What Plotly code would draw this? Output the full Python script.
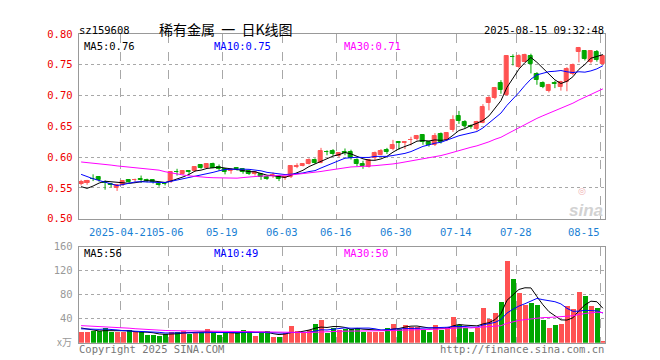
import plotly.graph_objects as go
import pandas as pd

# ---------------- data ----------------
OPEN = [0.557,0.558,0.565,0.567,0.560,0.556,0.549,0.555,0.563,0.562,
        0.564,0.563,0.563,0.557,0.557,0.559,0.576,0.573,0.578,0.578,
        0.587,0.582,0.589,0.584,0.581,0.577,0.582,0.580,0.577,0.573,
        0.572,0.568,0.569,0.570,0.566,0.567,0.584,0.586,0.589,0.596,
        0.591,0.609,0.610,0.602,0.609,0.609,0.596,0.589,0.584,0.598,
        0.604,0.611,0.613,0.6245,0.623,0.627,0.629,0.636,0.624,0.619,
        0.638,0.628,0.644,0.666,0.657,0.651,0.645,0.656,0.6887,0.6955,
        0.720,0.7007,0.763,0.746,0.755,0.7647,0.7343,0.7201,0.707,0.7205,
        0.714,0.7227,0.7343,0.770,0.7725,0.7542,0.771,0.751]
HIGH = [0.563,0.563,0.572,0.569,0.562,0.558,0.556,0.562,0.564,0.565,
        0.570,0.565,0.564,0.560,0.559,0.576,0.581,0.579,0.579,0.585,
        0.588,0.590,0.591,0.588,0.582,0.582,0.583,0.581,0.578,0.577,
        0.574,0.569,0.575,0.571,0.569,0.586,0.590,0.590,0.598,0.598,
        0.615,0.611,0.613,0.608,0.614,0.612,0.598,0.594,0.597,0.609,
        0.613,0.615,0.628,0.625,0.626,0.633,0.636,0.637,0.625,0.639,
        0.640,0.640,0.668,0.675,0.660,0.653,0.659,0.686,0.699,0.714,
        0.725,0.765,0.767,0.767,0.768,0.768,0.738,0.723,0.719,0.724,
        0.724,0.746,0.752,0.779,0.774,0.774,0.774,0.766]
LOW = [0.554,0.555,0.561,0.560,0.547,0.551,0.545,0.553,0.558,0.560,
       0.558,0.559,0.557,0.552,0.554,0.558,0.570,0.571,0.572,0.576,
       0.581,0.581,0.582,0.578,0.572,0.573,0.578,0.573,0.571,0.570,
       0.563,0.563,0.566,0.561,0.563,0.566,0.582,0.585,0.588,0.589,
       0.590,0.603,0.602,0.600,0.603,0.596,0.585,0.581,0.583,0.595,
       0.603,0.605,0.611,0.612,0.613,0.619,0.627,0.620,0.617,0.618,
       0.622,0.626,0.641,0.654,0.647,0.646,0.643,0.655,0.676,0.694,
       0.703,0.6995,0.749,0.744,0.754,0.736,0.7175,0.712,0.705,0.712,
       0.708,0.707,0.733,0.754,0.757,0.752,0.755,0.750]
CLOSE = [0.559,0.561,0.564,0.562,0.558,0.554,0.554,0.561,0.560,0.563,
         0.563,0.561,0.559,0.555,0.556,0.575,0.575,0.578,0.575,0.584,
         0.582,0.589,0.583,0.581,0.576,0.579,0.580,0.575,0.572,0.575,
         0.567,0.564,0.571,0.565,0.568,0.585,0.586,0.589,0.595,0.590,
         0.610,0.608,0.605,0.607,0.607,0.599,0.588,0.585,0.596,0.606,
         0.610,0.609,0.619,0.6235,0.625,0.628,0.634,0.624,0.620,0.634,
         0.624,0.639,0.660,0.659,0.650,0.649,0.657,0.682,0.6965,0.713,
         0.7097,0.7647,0.762,0.765,0.766,0.7516,0.7254,0.7133,0.7175,0.7195,
         0.722,0.7437,0.750,0.7778,0.7594,0.7725,0.758,0.765]
VOLUME = [17.6,17.6,19.7,19.7,25.6,17.6,17.6,17.6,21.0,17.6,
          17.6,13.3,13.3,11.2,14.4,17.6,17.6,19.7,14.4,16.5,
          17.6,24.0,16.5,12.8,16.5,17.6,17.0,22.4,17.6,11.2,
          16.0,20.8,9.6,9.6,16.0,28.8,20.8,17.0,22.4,31.0,
          39.0,17.0,25.0,22.0,24.0,23.0,25.0,18.7,18.7,18.7,
          18.7,25.6,32.0,23.0,30.4,26.7,26.7,21.3,17.6,30.4,
          21.3,27.2,43.2,29.3,25.0,17.6,25.0,59.0,40.0,50.0,
          67.7,136.0,107.0,82.7,64.0,66.7,64.0,38.4,25.6,30.4,
          31.5,62.4,57.0,84.8,79.0,62.4,58.0,2.7]
# estimated sessions before the visible window (only feed the moving averages)
PRIOR_CLOSE = [0.585,0.592,0.598,0.590,0.586,0.594,0.590,0.585,
               0.580,0.586,0.590,0.582,
               0.615,0.632,0.640,
               0.628,0.620,0.615,0.622,0.612,
               0.600,0.597,0.590,0.588,0.585,
               0.575,0.545,0.538,0.543]
PRIOR_VOLUME = [32,30,34,31,30, 42,45,40, 44,40,38, 28,27,25,26,
                22,21,24,20,22, 22,21,23,20,22, 28,30,24,23]

DATE_TICK_IDX = [7, 15, 24, 34, 43, 53, 63, 73, 87]
DATE_TICK_LABELS = ["2025-04-21", "05-06", "05-19", "06-03", "06-16",
                    "06-30", "07-14", "07-28", "08-15"]
PRICE_TICKS = [0.50, 0.55, 0.60, 0.65, 0.70, 0.75, 0.80]
VOL_TICKS = [40, 80, 120, 160]
MA_PERIODS = [5, 10, 30]
PRICE_MA_TEXT = ["MA5:0.76", "MA10:0.75", "MA30:0.71"]
VOL_MA_TEXT = ["MA5:56", "MA10:49", "MA30:50"]
CODE = "sz159608"
TITLE = "稀有金属\u00a0\u00a0一\u00a0\u00a0日K线图"
STAMP = "2025-08-15 09:32:48"

# ---------------- styling ----------------
W, H = 660, 360
X0, X1 = 70.7, 597.3
P_TOP, P_BOT = 20.7, 211.7
V_TOP, V_BOT = 240.7, 340.0
RED, GREEN = "#ff5252", "#00a600"
MA_COLORS = ["#000000", "#0000ff", "#ff00ff"]
MONO = "DejaVu Sans Mono"
FS = 10.5


def fx(x):
    return x / W


def fy(y):
    return 1 - y / H


n = len(CLOSE)
idx = list(range(n))
up = [c >= o for o, c in zip(OPEN, CLOSE)]
colors = [RED if u else GREEN for u in up]

close_all = pd.Series(PRIOR_CLOSE + CLOSE)
vol_all = pd.Series(PRIOR_VOLUME + VOLUME)
k = len(PRIOR_CLOSE)
price_ma = [close_all.rolling(p).mean().tolist()[k:] for p in MA_PERIODS]
kv = len(PRIOR_VOLUME)
vol_ma = [vol_all.rolling(p).mean().tolist()[kv:] for p in MA_PERIODS]

fig = go.Figure()

# wicks
for want, col in ((True, RED), (False, GREEN)):
    xs, ys = [], []
    for i in idx:
        if up[i] == want:
            xs += [i, i, None]
            ys += [LOW[i], HIGH[i], None]
    fig.add_trace(go.Scatter(x=xs, y=ys, mode="lines", line=dict(color=col, width=1),
                             hoverinfo="skip", showlegend=False, xaxis="x", yaxis="y"))

# bodies
fig.add_trace(go.Bar(x=idx, base=[min(o, c) for o, c in zip(OPEN, CLOSE)],
                     y=[abs(c - o) for o, c in zip(OPEN, CLOSE)],
                     width=0.7, marker=dict(color=colors, line=dict(color=colors, width=1)),
                     showlegend=False, xaxis="x", yaxis="y"))

for ma, col in zip(price_ma, MA_COLORS):
    fig.add_trace(go.Scatter(x=idx, y=ma, mode="lines", line=dict(color=col, width=1),
                             showlegend=False, xaxis="x", yaxis="y"))

# volume
fig.add_trace(go.Bar(x=idx, y=VOLUME, width=0.85, marker=dict(color=colors, line=dict(width=0)),
                     showlegend=False, xaxis="x2", yaxis="y2"))
for ma, col in zip(vol_ma, MA_COLORS):
    fig.add_trace(go.Scatter(x=idx, y=ma, mode="lines", line=dict(color=col, width=1),
                             showlegend=False, xaxis="x2", yaxis="y2"))

grid_x = [t - 0.45 for t in DATE_TICK_IDX]
xcommon = dict(domain=[fx(X0), fx(X1)], range=[-0.4, n - 0.6], tickvals=grid_x,
               showticklabels=False, ticks="", showgrid=True, gridcolor="#a8a8a8",
               griddash="dash", gridwidth=1, showline=True, mirror=True,
               linecolor="#999999", linewidth=1, zeroline=False, fixedrange=True)

fig.update_layout(
    width=W, height=H, margin=dict(l=0, r=0, t=0, b=0),
    paper_bgcolor="white", plot_bgcolor="white", bargap=0,
    showlegend=False,
    xaxis=dict(anchor="y", **xcommon),
    xaxis2=dict(anchor="y2", **xcommon),
    yaxis=dict(domain=[fy(P_BOT), fy(P_TOP)], range=[PRICE_TICKS[0], PRICE_TICKS[-1]],
               tickvals=PRICE_TICKS, ticktext=[f"{v:.2f}" for v in PRICE_TICKS],
               tickfont=dict(family=MONO, size=FS, color="#ee0000"), ticks="",
               ticklabelstandoff=3,
               showgrid=True, gridcolor="#a8a8a8", griddash="dot", gridwidth=1,
               showline=True, mirror=True, linecolor="#999999", linewidth=1,
               zeroline=False, anchor="x"),
    yaxis2=dict(domain=[fy(V_BOT), fy(V_TOP)], range=[0, VOL_TICKS[-1]],
                tickvals=VOL_TICKS, ticktext=[str(v) for v in VOL_TICKS],
                tickfont=dict(family=MONO, size=FS, color="#999999"), ticks="",
                ticklabelstandoff=3,
                showgrid=True, gridcolor="#a8a8a8", griddash="dot", gridwidth=1,
                showline=True, mirror=True, linecolor="#999999", linewidth=1,
                zeroline=False, anchor="x2"),
)

ann = []


def text(x, y, s, color="#000000", size=FS, family=MONO, anchor="left", **kw):
    ann.append(dict(x=fx(x), y=fy(y), xref="paper", yref="paper", text=s, showarrow=False,
                    xanchor=anchor, yanchor="middle",
                    font=dict(family=family, size=size, color=color, **kw)))


text(69, 17, CODE)
text(149, 16, TITLE, size=14, family="Noto Sans CJK SC", anchor="left")
text(598, 17, STAMP, anchor="right")
for j, (s, col) in enumerate(zip(PRICE_MA_TEXT, MA_COLORS)):
    text(74 + 130 * j, 33, s, color=col)
for j, (s, col) in enumerate(zip(VOL_MA_TEXT, MA_COLORS)):
    text(74 + 130 * j, 247, s, color=col)
text(66, 339, "x万", color="#999999", size=10, family="Noto Sans CJK SC", anchor="right")
text(69, 347, "Copyright 2025 SINA.COM", color="#777777")
text(598, 347, "http://finance.sina.com.cn", color="#777777", anchor="right")
text(574, 183, "◎", color="#f0b4b4", size=9, family="DejaVu Sans", anchor="center")
text(578, 203, "sina", color="#d2d2d2", size=17, family="Liberation Sans",
     anchor="center", style="italic", weight="bold")

for t, lab in zip(grid_x, DATE_TICK_LABELS):
    last = lab == DATE_TICK_LABELS[-1]
    ann.append(dict(x=t + (0.35 if last else 0), y=fy(226), xref="x", yref="paper", text=lab,
                    showarrow=False, xanchor="right" if last else "center", yanchor="middle",
                    font=dict(family=MONO, size=FS, color="#1a7fd4")))

fig.update_layout(annotations=ann)
fig.write_html("out.html")
